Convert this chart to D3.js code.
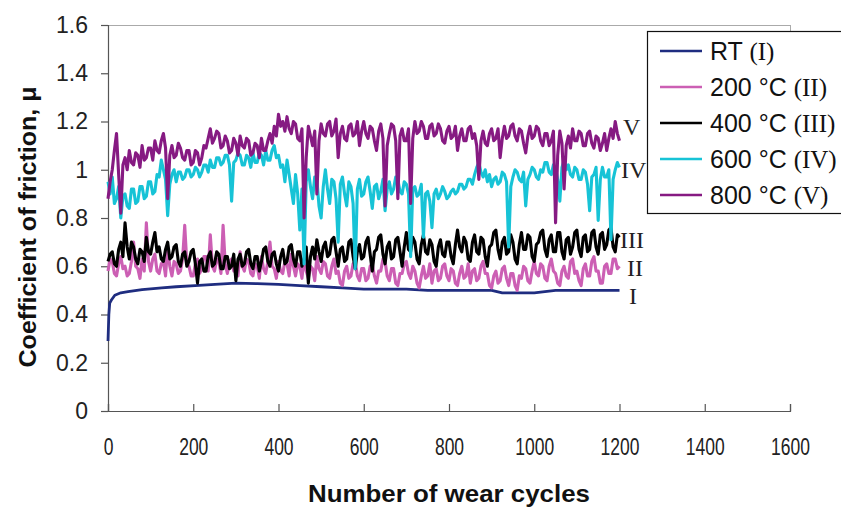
<!DOCTYPE html>
<html><head><meta charset="utf-8">
<script src="https://cdn.jsdelivr.net/npm/d3@7"></script>
<style>body{margin:0;background:#fff}svg{display:block}</style>
</head><body>
<script>
// ---------- DATA ----------
const cycles = d3.range(0, 1201, 5);
const rtCycles = [0,2,4,8,16,30,47,80,126,160,204,251,300,350,400,450,500,550,600,650,700,750,800,850,900,925,950,1000,1050,1100,1150,1200];
const rtValues = [0.29,0.40,0.447,0.46,0.48,0.49,0.495,0.503,0.51,0.515,0.52,0.525,0.53,0.528,0.525,0.52,0.515,0.51,0.505,0.505,0.505,0.50,0.50,0.50,0.50,0.49,0.49,0.49,0.50,0.50,0.50,0.50];
const v200 = [
0.58,0.63,0.62,0.57,0.56,0.61,0.64,0.59,0.60,0.56,0.57,0.62,0.70,0.60,0.59,0.55,0.63,0.58,0.78,0.62,
0.58,0.63,0.65,0.58,0.57,0.61,0.62,0.56,0.68,0.60,0.56,0.62,0.61,0.57,0.58,0.63,0.77,0.61,0.60,0.56,
0.56,0.61,0.63,0.57,0.59,0.64,0.64,0.58,0.73,0.60,0.58,0.63,0.62,0.57,0.77,0.61,0.57,0.62,0.63,0.58,
0.60,0.56,0.66,0.60,0.58,0.63,0.62,0.57,0.56,0.61,0.60,0.55,0.64,0.59,0.57,0.62,0.70,0.60,0.59,0.55,
0.62,0.58,0.57,0.62,0.61,0.56,0.65,0.60,0.56,0.61,0.60,0.55,0.63,0.58,0.55,0.60,0.59,0.54,0.64,0.59,
0.57,0.62,0.61,0.56,0.55,0.60,0.63,0.57,0.58,0.53,0.52,0.58,0.60,0.55,0.56,0.61,0.62,0.56,0.54,0.59,
0.59,0.54,0.55,0.60,0.61,0.56,0.53,0.58,0.58,0.63,0.62,0.56,0.54,0.59,0.59,0.53,0.52,0.57,0.57,0.61,
0.62,0.57,0.55,0.60,0.58,0.53,0.51,0.56,0.60,0.55,0.56,0.61,0.53,0.58,0.59,0.54,0.55,0.60,0.61,0.56,
0.54,0.59,0.58,0.53,0.52,0.57,0.60,0.55,0.56,0.61,0.53,0.58,0.59,0.54,0.55,0.60,0.62,0.57,0.57,0.52,
0.51,0.56,0.58,0.53,0.54,0.59,0.60,0.55,0.52,0.57,0.57,0.52,0.50,0.56,0.55,0.60,0.59,0.54,0.53,0.58,
0.62,0.57,0.56,0.61,0.60,0.55,0.54,0.60,0.63,0.58,0.57,0.53,0.52,0.58,0.60,0.56,0.55,0.62,0.63,0.57,
0.58,0.54,0.52,0.59,0.61,0.56,0.56,0.62,0.64,0.58,0.58,0.53,0.53,0.60,0.61,0.57,0.57,0.63,0.63,0.59,
0.60];
const v400 = [
0.62,0.65,0.66,0.61,0.60,0.67,0.70,0.64,0.78,0.68,0.63,0.70,0.68,0.63,0.61,0.67,0.66,0.62,0.72,0.66,
0.65,0.70,0.74,0.66,0.68,0.63,0.62,0.67,0.70,0.63,0.64,0.68,0.69,0.62,0.60,0.65,0.66,0.60,0.62,0.66,
0.67,0.61,0.53,0.62,0.63,0.58,0.58,0.64,0.66,0.60,0.61,0.66,0.65,0.59,0.59,0.64,0.64,0.59,0.60,0.65,
0.54,0.63,0.65,0.60,0.61,0.66,0.67,0.61,0.59,0.64,0.64,0.58,0.62,0.67,0.68,0.62,0.60,0.65,0.66,0.61,
0.58,0.64,0.67,0.61,0.62,0.68,0.69,0.63,0.60,0.66,0.66,0.60,0.63,0.68,0.53,0.64,0.68,0.63,0.71,0.66,
0.62,0.68,0.70,0.64,0.65,0.71,0.72,0.66,0.60,0.67,0.68,0.62,0.63,0.70,0.71,0.64,0.59,0.66,0.69,0.63,
0.64,0.70,0.72,0.65,0.58,0.66,0.67,0.72,0.73,0.65,0.61,0.68,0.70,0.63,0.64,0.71,0.72,0.66,0.60,0.68,
0.74,0.67,0.66,0.72,0.70,0.63,0.61,0.69,0.73,0.66,0.65,0.71,0.69,0.62,0.60,0.68,0.71,0.65,0.64,0.70,
0.70,0.64,0.61,0.69,0.75,0.68,0.66,0.72,0.70,0.63,0.62,0.70,0.73,0.66,0.65,0.72,0.71,0.64,0.60,0.68,
0.69,0.74,0.75,0.67,0.63,0.70,0.72,0.65,0.66,0.73,0.70,0.63,0.61,0.69,0.74,0.67,0.67,0.73,0.72,0.64,
0.62,0.69,0.70,0.74,0.75,0.67,0.64,0.71,0.73,0.66,0.66,0.74,0.74,0.66,0.63,0.71,0.72,0.65,0.68,0.74,
0.75,0.67,0.64,0.72,0.73,0.66,0.67,0.74,0.75,0.68,0.65,0.73,0.74,0.67,0.69,0.75,0.76,0.68,0.66,0.73,
0.72];
const v600 = [
0.95,0.90,0.97,0.86,0.88,0.93,0.80,0.89,0.90,0.85,0.84,0.92,0.92,0.86,0.87,0.93,0.93,0.88,0.89,0.95,
0.95,0.90,0.91,0.98,0.97,1.04,1.00,0.96,0.81,0.94,0.98,1.00,0.95,0.99,0.99,0.96,0.97,1.00,1.00,0.97,
0.98,1.01,1.00,0.97,0.99,1.02,1.02,0.99,1.04,1.01,1.01,1.05,1.05,1.02,1.03,1.06,1.06,1.02,0.87,1.03,
1.04,1.07,1.06,1.02,1.02,1.06,1.05,1.01,1.07,1.03,1.03,1.07,1.06,1.02,1.08,1.04,1.04,1.08,1.10,1.05,
1.06,1.01,1.02,0.95,1.04,0.98,0.92,0.86,0.98,0.90,0.75,0.92,0.61,0.95,1.00,0.93,0.88,0.97,0.96,0.85,
0.80,0.93,1.00,0.92,0.86,0.96,0.95,0.88,0.70,0.94,0.97,0.90,0.85,0.95,0.93,0.86,0.59,0.92,0.96,0.89,
0.90,0.95,0.97,0.91,0.84,0.93,0.94,0.88,0.91,0.96,0.83,0.92,0.95,0.90,0.92,0.97,0.96,0.91,0.90,0.95,
0.94,0.90,0.64,0.92,0.93,0.89,0.90,0.94,0.72,0.90,0.91,0.87,0.76,0.90,0.92,0.88,0.90,0.93,0.91,0.88,
0.89,0.91,0.92,0.90,0.91,0.94,0.94,0.92,0.93,0.96,0.96,0.94,0.98,1.01,1.03,0.99,0.97,1.00,0.95,0.98,
0.93,0.96,0.97,0.94,0.95,0.99,0.98,0.95,0.68,0.93,0.97,1.00,0.99,0.96,0.95,0.99,0.85,0.96,0.98,1.01,
1.00,0.97,0.96,1.00,0.99,1.03,1.03,0.99,0.98,1.02,1.01,0.96,0.87,1.01,1.04,1.00,1.02,0.98,0.97,1.01,
1.00,0.96,0.96,1.00,0.99,0.94,0.83,0.97,0.98,1.01,0.79,0.96,1.01,0.97,0.97,1.00,0.71,0.96,1.00,1.03,
1.01];
const v800 = [
0.88,0.95,1.00,1.08,1.15,0.98,0.82,1.02,1.05,1.00,1.08,1.03,1.02,1.07,1.06,1.01,1.10,1.04,1.05,1.09,
1.09,1.04,1.12,1.08,1.07,1.12,1.15,1.09,0.88,1.06,1.10,1.05,1.06,1.11,1.09,1.05,1.04,1.08,1.08,1.02,
1.03,1.08,1.07,1.02,1.05,1.10,1.09,1.13,1.17,1.11,1.13,1.16,1.15,1.09,1.10,1.14,1.12,1.07,1.08,1.13,
1.11,1.06,1.14,1.10,1.09,1.13,1.12,1.06,1.07,1.11,1.10,1.05,1.13,1.08,1.08,1.12,1.15,1.11,1.18,1.14,
1.23,1.18,1.20,1.16,1.22,1.17,1.15,1.20,1.19,1.13,1.12,1.17,0.80,1.05,1.18,1.14,1.10,1.16,0.90,1.12,
1.19,1.15,1.14,1.19,1.20,1.14,1.16,1.21,1.05,1.15,1.18,1.13,1.12,1.18,1.19,1.14,1.15,1.20,1.10,1.16,
1.20,1.15,1.13,1.18,1.17,1.12,1.08,1.16,1.19,1.13,0.85,1.10,1.15,1.19,1.18,1.12,0.88,1.14,1.17,1.12,
1.12,1.17,0.86,1.13,1.20,1.15,1.16,1.20,1.18,1.13,1.13,1.18,1.19,1.14,1.15,1.19,1.17,1.12,1.11,1.16,
1.18,1.13,1.14,1.18,1.08,1.14,1.17,1.12,1.12,1.17,1.18,1.13,1.15,1.10,0.96,1.12,1.16,1.11,1.10,1.15,
1.17,1.12,1.13,1.17,1.05,1.13,1.18,1.13,1.14,1.18,1.19,1.14,1.12,1.17,1.16,1.11,1.07,1.14,1.18,1.13,
1.14,1.18,1.17,1.12,1.10,1.15,1.15,1.10,1.12,1.16,0.78,1.06,1.16,1.11,0.92,1.10,1.14,1.09,1.17,1.12,
1.12,1.16,1.15,1.10,1.10,1.15,1.16,1.11,1.09,1.14,1.13,1.08,1.11,1.15,1.08,1.13,1.17,1.13,1.20,1.15,
1.12];
const seriesNames = ["RT", "200 °C", "400 °C", "600 °C", "800 °C"];
const romanLabels = ["I", "II", "III", "IV", "V"];
const seriesColors = ["#1f2d80", "#cc5fb4", "#000000", "#17c3d6", "#861a82"];
const xTicks = [0,200,400,600,800,1000,1200,1400,1600];
const yTicks = [0,0.2,0.4,0.6,0.8,1,1.2,1.4,1.6];
const xTitle = "Number of wear cycles";
const yTitle = "Coefficient of friction, μ";

// ---------- CHART ----------
const W = 841, H = 510;
const svg = d3.select("body").append("svg").attr("width", W).attr("height", H);
const x = d3.scaleLinear().domain([0,1600]).range([108, 790]);
const y = d3.scaleLinear().domain([0,1.6]).range([411, 25]);
const axisColor = "#555";
const sans = "Liberation Sans, Arial, sans-serif";
const serif = "Liberation Serif, Times New Roman, serif";

// plot-area border remnants (top, right)
svg.append("line").attr("x1",108).attr("x2",790).attr("y1",25.5).attr("y2",25.5).attr("stroke","#aaa").attr("stroke-width",1);
svg.append("line").attr("x1",790.5).attr("x2",790.5).attr("y1",25).attr("y2",40).attr("stroke","#aaa").attr("stroke-width",1);

const gx = svg.append("g").attr("transform","translate(0,411)")
  .call(d3.axisBottom(x).tickValues(xTicks).tickSize(-7).tickPadding(28).tickFormat(d3.format("d")));
const gy = svg.append("g").attr("transform","translate(108,0)")
  .call(d3.axisLeft(y).tickValues(yTicks).tickSize(7).tickPadding(13).tickFormat(d => d3.format("")(d)));
[gx, gy].forEach(g => {
  g.select(".domain").attr("stroke", axisColor).attr("stroke-width", 1.2);
  g.selectAll(".tick line").attr("stroke", axisColor).attr("stroke-width", 1.2);
  g.selectAll("text").attr("font-family", sans).attr("font-size", 23).attr("fill", "#222");
});
// x tick labels are horizontally condensed in the reference
gx.selectAll(".tick text").each(function() {
  const w = this.getComputedTextLength();
  d3.select(this).attr("textLength", w * 0.76).attr("lengthAdjust", "spacingAndGlyphs");
});

const line = d3.line().x(d => x(d[0])).y(d => y(d[1]));
const allSeries = [
  d3.zip(rtCycles, rtValues),
  d3.zip(cycles, v200),
  d3.zip(cycles, v400),
  d3.zip(cycles, v600),
  d3.zip(cycles, v800)
];
allSeries.forEach((s, i) => {
  svg.append("path").datum(s).attr("d", line).attr("fill","none")
    .attr("stroke", seriesColors[i]).attr("stroke-width", i === 0 ? 2.8 : 3.1)
    .attr("stroke-linejoin","round");
});

// roman numeral labels next to line ends
const romanPos = [[629, 0.48], [627, 0.595], [620, 0.71], [621, 1.0], [623, 1.18]];
romanPos.forEach((p, i) => {
  svg.append("text").attr("x", p[0]).attr("y", y(p[1])).attr("dy","0.35em")
    .attr("font-family", serif).attr("font-size", 24).attr("fill","#222").text(romanLabels[i]);
});

// axis titles
svg.append("text").attr("x", 449).attr("y", 502).attr("text-anchor","middle")
  .attr("font-family", sans).attr("font-weight","bold").attr("font-size", 24).attr("fill","#111")
  .attr("textLength", 282).attr("lengthAdjust","spacingAndGlyphs").text(xTitle);
svg.append("text").attr("transform","translate(36,227) rotate(-90)").attr("text-anchor","middle")
  .attr("font-family", sans).attr("font-weight","bold").attr("font-size", 24).attr("fill","#111")
  .attr("textLength", 281).attr("lengthAdjust","spacingAndGlyphs").text(yTitle);

// legend
const lg = svg.append("g");
lg.append("rect").attr("x",647.5).attr("y",31.5).attr("width",220).attr("height",182).attr("fill","#fff").attr("stroke","#111").attr("stroke-width",1.2);
seriesNames.forEach((n, i) => {
  const cy = 51 + i * 36;
  lg.append("line").attr("x1",660).attr("x2",702).attr("y1",cy).attr("y2",cy).attr("stroke",seriesColors[i]).attr("stroke-width",2.5);
  const t = lg.append("text").attr("x",710).attr("y",cy).attr("dy","0.36em").attr("font-size",25).attr("fill","#111");
  t.append("tspan").attr("font-family",sans).text(n + " ");
  t.append("tspan").attr("font-family",serif).text("(" + romanLabels[i] + ")");
});
</script>
</body></html>
